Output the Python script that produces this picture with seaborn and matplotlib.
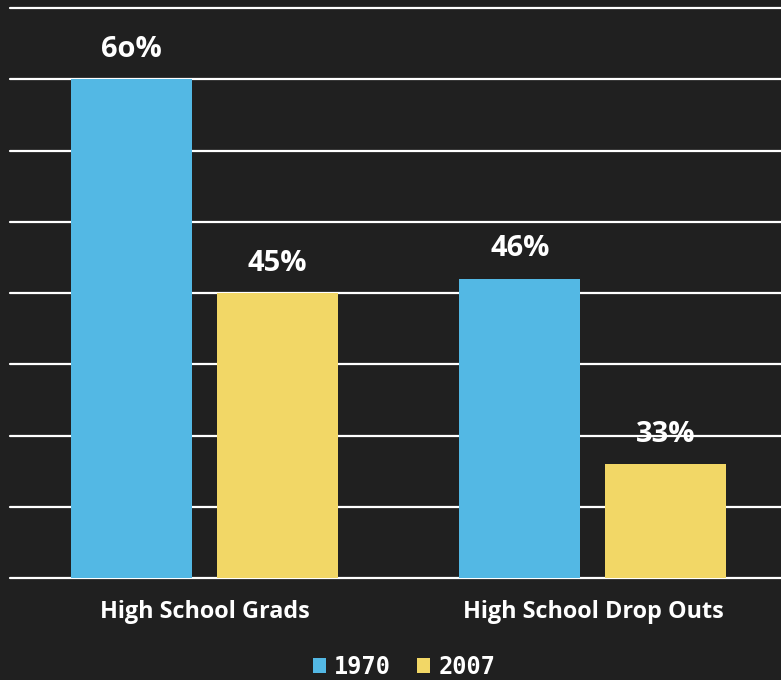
import matplotlib
matplotlib.use("Agg")
import matplotlib.pyplot as plt
from matplotlib.patches import Patch
import seaborn as sns
import pandas as pd

categories = ["High School Grads", "High School Drop Outs"]
years = ["1970", "2007"]
values_1970 = [60, 46]
values_2007 = [45, 33]
value_labels_1970 = ["6o%", "46%"]
value_labels_2007 = ["45%", "33%"]

df = pd.DataFrame({
    "category": categories * 2,
    "year": [years[0]] * 2 + [years[1]] * 2,
    "value": values_1970 + values_2007,
})

BG = "#202020"
BLUE = "#53B8E4"
YELLOW = "#F2D766"

sns.set_theme(style="dark")
plt.rcParams["font.family"] = ["Open Sans", "DejaVu Sans"]

fig = plt.figure(figsize=(7.81, 6.8), dpi=100, facecolor=BG)
W, H = 781, 680
ax = fig.add_axes([10 / W, (H - 578) / H, 771 / W, 570 / H])
ax.set_facecolor(BG)

sns.barplot(data=df, x="category", y="value", hue="year",
            palette=[BLUE, YELLOW], width=0.7516, gap=0.171,
            saturation=1, ax=ax, legend=False, zorder=3,
            edgecolor="none", linewidth=0)

ax.set_ylim(25, 65)
ax.set_xlim(-0.5006, 1.484)
for y in range(25, 70, 5):
    ax.axhline(y, color="white", lw=1.6, zorder=1, clip_on=False)

labels = value_labels_1970 + value_labels_2007
for patch, lab in zip(ax.patches, labels):
    x = patch.get_x() + patch.get_width() / 2
    top = patch.get_height()
    ax.annotate(lab, (x, top), xytext=(0, 11), textcoords="offset points",
                ha="center", va="bottom", color="white", fontsize=21,
                fontweight="bold")

ax.set_xlabel("")
ax.set_ylabel("")
ax.set_yticks([])
ax.tick_params(axis="x", length=0, pad=15.5, labelsize=16.8, colors="white")
for t in ax.get_xticklabels():
    t.set_fontweight("bold")
for s in ax.spines.values():
    s.set_visible(False)
ax.grid(False)

handles = [Patch(facecolor=BLUE, edgecolor="none"), Patch(facecolor=YELLOW, edgecolor="none")]
leg = fig.legend(handles, years, loc="center", bbox_to_anchor=(404 / W, 1 - 667 / H),
                 ncol=2, frameon=False, handlelength=0.55, handleheight=0.6,
                 handletextpad=0.35, columnspacing=1.1,
                 prop={"family": "DejaVu Sans Mono", "weight": "bold", "size": 17})
for t in leg.get_texts():
    t.set_color("white")

fig.savefig("out.png", dpi=100, facecolor=BG)
